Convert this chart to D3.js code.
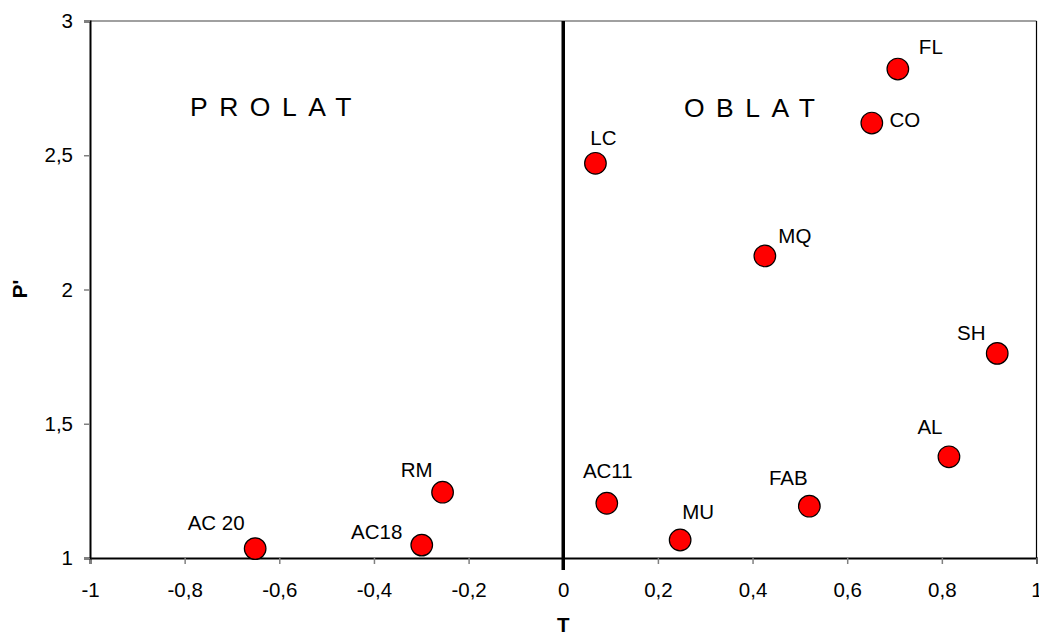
<!DOCTYPE html>
<html><head><meta charset="utf-8">
<script src="https://cdn.jsdelivr.net/npm/d3@7"></script>
<style>body{margin:0;background:#fff}svg{display:block}text{font-family:"Liberation Sans",Arial,sans-serif}</style>
</head><body><svg id="c" width="1039" height="634"></svg>
<script>
const names = ["AC 20","AC18","RM","AC11","MU","FAB","AL","SH","LC","MQ","CO","FL"];
const tValues = [-0.651,-0.299,-0.255,0.092,0.247,0.520,0.815,0.917,0.068,0.426,0.652,0.707];
const pValues = [1.035,1.048,1.245,1.204,1.067,1.193,1.377,1.762,2.470,2.125,2.620,2.821];
const xTicks = [-1,-0.8,-0.6,-0.4,-0.2,0,0.2,0.4,0.6,0.8,1];
const yTicks = [1,1.5,2,2.5,3];
// label placement offsets (px) relative to each marker
const labelDx = [-39,-45,-26,1,18,-21,-19,-26,8,30,33,33];
const labelDy = [-19,-6,-15,-25,-21,-21,-23,-13,-18,-13,4,-15];

const L=90,R=1036.5,T=21,B=558;
const FS=20.5;
const svg=d3.select("#c");
const x=d3.scaleLinear().domain([-1,1]).range([L,R]);
const y=d3.scaleLinear().domain([1,3]).range([B,T]);
const fmt=d=>String(d).replace(".",",");

// frame
svg.append("line").attr("x1",L).attr("x2",R).attr("y1",T).attr("y2",T).attr("stroke","#808080").attr("stroke-width",1.5);
svg.append("line").attr("x1",R).attr("x2",R).attr("y1",T).attr("y2",B).attr("stroke","#000").attr("stroke-width",1.2);

const gx=svg.append("g").attr("transform",`translate(0,${B})`)
  .call(d3.axisBottom(x).tickValues(xTicks).tickFormat(fmt).tickSize(6).tickPadding(18));
gx.select(".domain").attr("stroke","#000").attr("stroke-width",2);
gx.selectAll(".tick line").attr("stroke","#808080").attr("stroke-width",1.5);
gx.selectAll(".tick text").attr("font-size",FS).attr("fill","#000").attr("font-family","Liberation Sans, Arial, sans-serif");

const gy=svg.append("g").attr("transform",`translate(${L},0)`)
  .call(d3.axisLeft(y).tickValues(yTicks).tickFormat(fmt).tickSize(6).tickPadding(11));
gy.select(".domain").attr("stroke","#000").attr("stroke-width",2);
gy.selectAll(".tick line").attr("stroke","#808080").attr("stroke-width",1.5);
gy.selectAll(".tick text").attr("font-size",FS).attr("fill","#000").attr("font-family","Liberation Sans, Arial, sans-serif");

// zero divider
svg.append("line").attr("x1",x(0)).attr("x2",x(0)).attr("y1",T).attr("y2",570).attr("stroke","#000").attr("stroke-width",3.5);

// region labels
svg.append("text").attr("x",190).attr("y",116).attr("font-size",26.5).attr("letter-spacing",11.5).text("PROLAT");
svg.append("text").attr("x",684).attr("y",117).attr("font-size",26.5).attr("letter-spacing",11.5).text("OBLAT");

// axis titles
svg.append("text").attr("x",x(0)).attr("y",632).attr("text-anchor","middle").attr("font-size",20.5).attr("font-weight","bold").text("T");
svg.append("text").attr("transform","translate(27,289) rotate(-90)").attr("text-anchor","middle").attr("font-size",20.5).attr("font-weight","bold").text("P'");

const data=names.map((n,i)=>({n,t:tValues[i],p:pValues[i],dx:labelDx[i],dy:labelDy[i]}));
svg.append("g").selectAll("circle").data(data).join("circle")
  .attr("cx",d=>x(d.t)).attr("cy",d=>y(d.p)).attr("r",10.8)
  .attr("fill","#ff0000").attr("stroke","#000").attr("stroke-width",1.2);
svg.append("g").selectAll("text").data(data).join("text")
  .attr("x",d=>x(d.t)+d.dx).attr("y",d=>y(d.p)+d.dy).attr("text-anchor","middle")
  .attr("font-size",FS).text(d=>d.n);
</script></body></html>
